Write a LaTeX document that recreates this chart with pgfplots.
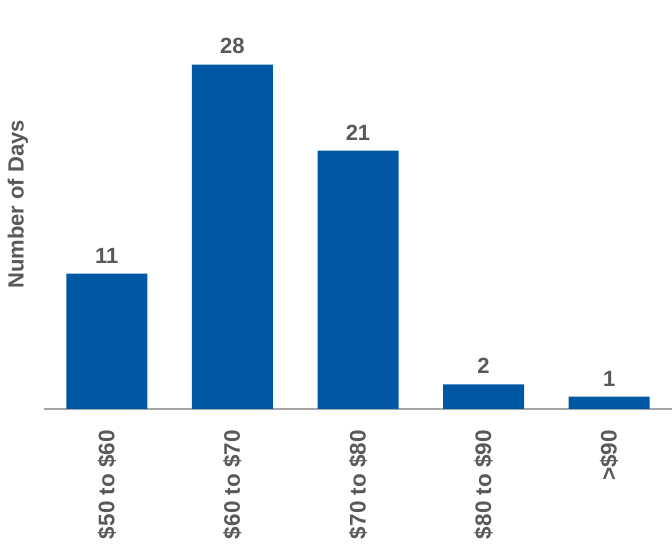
\documentclass[border=0pt]{standalone}
\usepackage{fontspec}
\setmainfont{Liberation Sans}
\usepackage{pgfplots}
\pgfplotsset{compat=1.18}

\definecolor{barblue}{HTML}{0057A3}
\definecolor{txtgray}{HTML}{595959}
\definecolor{linegray}{HTML}{A6A6A6}

\begin{document}
\begin{tikzpicture}
    \begin{axis}[
        scale only axis,
        width=628pt, height=409pt,
        ybar, bar width=81pt, bar shift=0pt,
        xmin=-0.5, xmax=4.5,
        ymin=0, ymax=33.25,
        axis x line=bottom,
        axis y line=left,
        x axis line style={-, linegray, line width=2pt},
        y axis line style={draw=none},
        ytick=\empty,
        xtick=data,
        xticklabels={\$50 to \$60, \$60 to \$70, \$70 to \$80, \$80 to \$90, >\$90},
        major tick length=0pt,
        xticklabel shift=21pt,
        xticklabel style={rotate=90, anchor=east, inner sep=0pt,
            font=\fontsize{22.5}{25}\selectfont\bfseries, text=txtgray},
        ylabel={Number of Days},
        ylabel style={at={(axis description cs:-0.0414,0.5)}, anchor=center,
            font=\fontsize{22}{25}\selectfont\bfseries, text=txtgray},
        /pgf/number format/assume math mode=true,
        nodes near coords,
        nodes near coords style={font=\fontsize{22}{25}\selectfont\bfseries,
            text=txtgray, yshift=7pt},
        clip=false,
        ]

    \addplot[fill=barblue, draw=none]
        coordinates {(0,11)(1,28)(2,21)(3,2)(4,1)};

    \end{axis}
    \pgfresetboundingbox
    \useasboundingbox (current axis.south west) ++(-44pt,-141pt)
        rectangle (current axis.north east);
\end{tikzpicture}
\end{document}
